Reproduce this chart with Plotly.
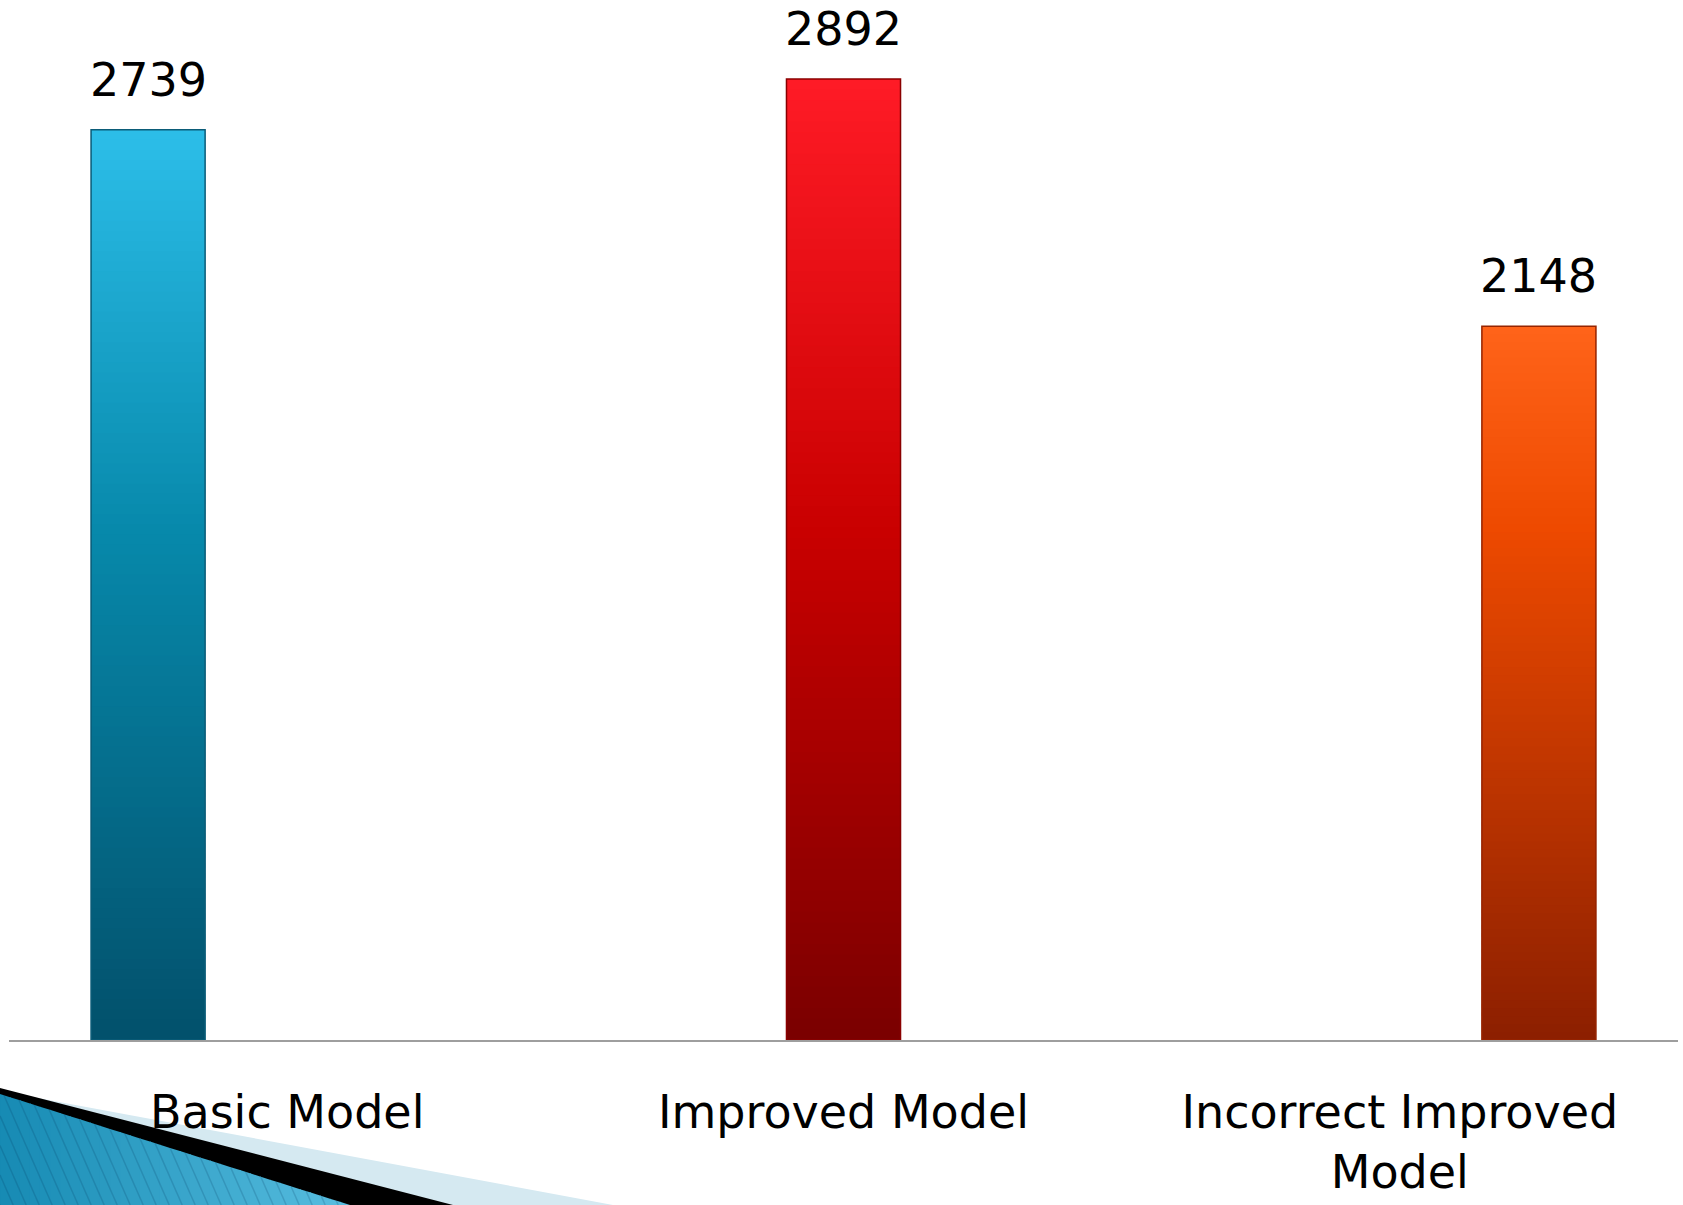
import plotly.graph_objects as go

# ---- data ----
categories = ["Basic Model", "Improved Model", "Incorrect Improved<br>Model"]
values = [2739, 2892, 2148]
value_labels = ["2739", "2892", "2148"]

# ---- styles ----
gradients = [
    [(0.0, "#2CBEE9"), (0.44, "#0789AB"), (1.0, "#02506B")],
    [(0.0, "#FF1B26"), (0.47, "#C90000"), (1.0, "#7A0000")],
    [(0.0, "#FF6419"), (0.28, "#EE4A00"), (1.0, "#8C1F00")],
]
outline_colors = ["#0B5C78", "#8A0000", "#962400"]
FONT = "DejaVu Sans"
N = 90
W, H = 1683, 1205
ML, MR, MT, MB = 9, 5, 43, 165


def hex2rgb(h):
    h = h.lstrip("#")
    return tuple(int(h[i:i + 2], 16) for i in (0, 2, 4))


def mix(c0, c1, f):
    a, b = hex2rgb(c0), hex2rgb(c1)
    return "rgb(%d,%d,%d)" % tuple(round(a[k] + (b[k] - a[k]) * f) for k in range(3))


def color_at(stops, t):
    # t = 0 at top, 1 at bottom
    for (t0, c0), (t1, c1) in zip(stops[:-1], stops[1:]):
        if t0 <= t <= t1:
            f = (t - t0) / (t1 - t0) if t1 > t0 else 0
            return mix(c0, c1, f)
    return stops[-1][1]


fig = go.Figure()
for i, (cat, v) in enumerate(zip(categories, values)):
    seg = v / N
    ys, bases, cols, lw, lc = [], [], [], [], []
    for k in range(N):
        b = seg * k
        ys.append(min(seg * 2.5, v - b))
        bases.append(b)
        t = 1 - (k + 0.5) / N
        cols.append(color_at(gradients[i], t))
        lw.append(0)
        lc.append("rgba(0,0,0,0)")
    # outline bar
    ys.append(v)
    bases.append(0)
    cols.append("rgba(0,0,0,0)")
    lw.append(1.5)
    lc.append(outline_colors[i])
    fig.add_trace(go.Bar(
        x=[cat] * (N + 1), y=ys, base=bases,
        marker=dict(color=cols, line=dict(width=lw, color=lc)),
        showlegend=False, hoverinfo="skip",
    ))

bargap = 0.25
slot = (1 - bargap) / len(values)
for i, (v, lab) in enumerate(zip(values, value_labels)):
    fig.add_annotation(
        x=i + (i - 1) * slot, y=v, xref="x", yref="y",
        text=lab, showarrow=False, yanchor="bottom", yshift=21,
        font=dict(family=FONT, size=46, color="black"),
    )


# ---- decoration (bottom-left slide ornament) ----
pw = W - ML - MR
ph = H - MT - MB


def px(x):
    return (x - ML) / pw


def py(y):
    return (H - MB - y) / ph


def poly(pts):
    return "M " + " L ".join("%.5f,%.5f" % (px(a), py(b)) for a, b in pts) + " Z"


fig.add_shape(type="path", xref="paper", yref="paper", layer="below",
              path=poly([(0, 1091), (613, 1205), (0, 1205)]),
              fillcolor="#D5E9F1", line=dict(width=0))
fig.add_shape(type="path", xref="paper", yref="paper", layer="below",
              path=poly([(0, 1088), (453, 1205), (0, 1205)]),
              fillcolor="#000000", line=dict(width=0))

# blue triangle as vertical slices with a left->right gradient
TY0, TS, TX1 = 1094.0, (1205 - 1094.0) / 350.0, 350.0
nsl = 35
for s in range(nsl):
    x0 = TX1 * s / nsl
    x1 = TX1 * (s + 1) / nsl + 0.8
    x1c = min(x1, TX1)
    pts = [(x0, TY0 + TS * x0), (x1c, TY0 + TS * x1c), (x1c, 1205), (x0, 1205)]
    fig.add_shape(type="path", xref="paper", yref="paper", layer="below",
                  path=poly(pts),
                  fillcolor=mix("#168AB3", "#58BEE0", (s + 0.5) / nsl),
                  line=dict(width=0))

# subtle diagonal stripes clipped to the triangle
SL = 0.44
c = -530.0
while c < -180:
    y_lo = max(-c / SL, (TY0 + TS * c) / (1 - TS * SL))
    if y_lo < 1205:
        fig.add_shape(type="line", xref="paper", yref="paper", layer="below",
                      x0=px(c + SL * y_lo), y0=py(y_lo),
                      x1=px(c + SL * 1205), y1=py(1205),
                      line=dict(color="rgba(0,50,90,0.18)", width=1.5))
    c += 13

fig.update_layout(
    width=W, height=H,
    margin=dict(l=ML, r=MR, t=MT, b=MB),
    barmode="group", bargap=bargap, bargroupgap=0.18,
    plot_bgcolor="white", paper_bgcolor="white",
    font=dict(family=FONT, color="black"),
    xaxis=dict(
        type="category", categoryorder="array", categoryarray=categories,
        showline=True, linecolor="#9E9E9E", linewidth=2,
        ticks="", showgrid=False, zeroline=False, automargin=False,
        tickfont=dict(family=FONT, size=46, color="black"),
        ticklabelstandoff=31,
    ),
    yaxis=dict(range=[0, 3000], visible=False, showgrid=False, zeroline=False,
               automargin=False),
)

fig.write_html("out.html")
